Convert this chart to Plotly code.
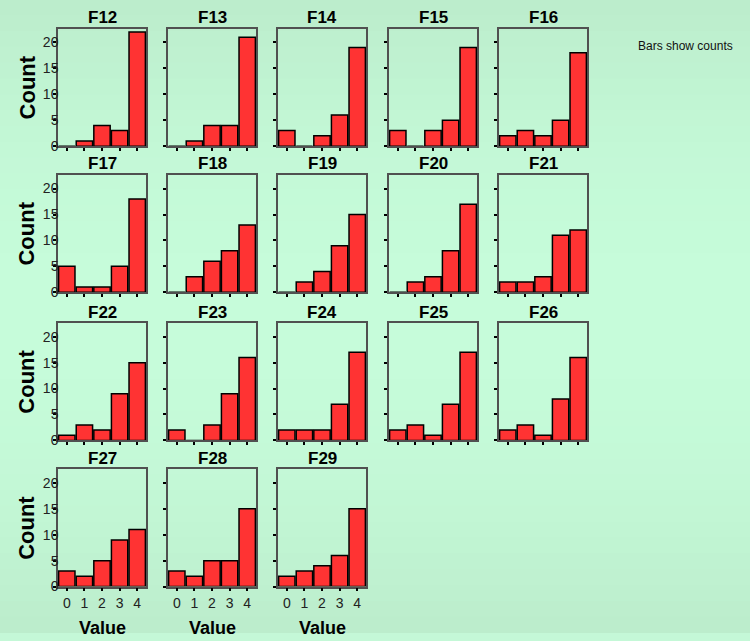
import plotly.graph_objects as go

# ---- data ----
categories = [0, 1, 2, 3, 4]
panel_names = ["F12", "F13", "F14", "F15", "F16",
               "F17", "F18", "F19", "F20", "F21",
               "F22", "F23", "F24", "F25", "F26",
               "F27", "F28", "F29"]
f12 = [0, 1, 4, 3, 22]
f13 = [0, 1, 4, 4, 21]
f14 = [3, 0, 2, 6, 19]
f15 = [3, 0, 3, 5, 19]
f16 = [2, 3, 2, 5, 18]
f17 = [5, 1, 1, 5, 18]
f18 = [0, 3, 6, 8, 13]
f19 = [0, 2, 4, 9, 15]
f20 = [0, 2, 3, 8, 17]
f21 = [2, 2, 3, 11, 12]
f22 = [1, 3, 2, 9, 15]
f23 = [2, 0, 3, 9, 16]
f24 = [2, 2, 2, 7, 17]
f25 = [2, 3, 1, 7, 17]
f26 = [2, 3, 1, 8, 16]
f27 = [3, 2, 5, 9, 11]
f28 = [3, 2, 5, 5, 15]
f29 = [2, 3, 4, 6, 15]
panel_values = [f12, f13, f14, f15, f16, f17, f18, f19, f20, f21,
                f22, f23, f24, f25, f26, f27, f28, f29]
y_ticks = [0, 5, 10, 15, 20]

# ---- layout geometry (pixels) ----
W, H = 750, 641
col_left = [58, 168, 278, 389, 499]
row_top = [29, 177, 327, 475]
pw, ph = 88, 119
FONT = "Liberation Sans, Arial, sans-serif"

fig = go.Figure()

# gradient background bands
n_bands = 40
top_c = (0xBB, 0xEC, 0xCB)
mid_c = (0xC6, 0xFC, 0xDA)
for b in range(n_bands):
    t = (b + 0.5) / n_bands
    f = abs(t - 0.5) * 2  # 0 at middle, 1 at edges
    f = f ** 2
    col = tuple(int(round(mid_c[k] + (top_c[k] - mid_c[k]) * f)) for k in range(3))
    fig.add_shape(type="rect", xref="paper", yref="paper",
                  x0=0, x1=1, y0=1 - (b + 1) / n_bands, y1=1 - b / n_bands + 0.001,
                  fillcolor="rgb(%d,%d,%d)" % col, line_width=0, layer="below")

annotations = []
for i, (name, vals) in enumerate(zip(panel_names, panel_values)):
    r, c = divmod(i, 5)
    sfx = "" if i == 0 else str(i + 1)
    fig.add_trace(go.Bar(
        x=categories, y=vals, xaxis="x" + sfx, yaxis="y" + sfx,
        marker=dict(color="#ff3333", line=dict(color="#000000", width=1.5)),
        showlegend=False, hoverinfo="x+y"))
    x0 = col_left[c] / W
    x1 = (col_left[c] + pw) / W
    y1 = 1 - row_top[r] / H
    y0 = 1 - (row_top[r] + ph) / H
    bottom_row = i >= 15
    fig.layout["xaxis" + sfx] = dict(
        domain=[x0, x1], anchor="y" + sfx, range=[-0.5, 4.5],
        tickvals=categories, ticktext=[str(v) for v in categories],
        showticklabels=bottom_row, ticks="outside", ticklen=3, tickwidth=2,
        tickcolor="#000000", showline=True, mirror=True, linecolor="#505050",
        linewidth=1.5, showgrid=False, zeroline=False, fixedrange=True,
        tickfont=dict(family=FONT, size=14, color="#222222"))
    fig.layout["yaxis" + sfx] = dict(
        domain=[y0, y1], anchor="x" + sfx, range=[0, 22.66],
        tickvals=y_ticks, showticklabels=(c == 0), ticks="outside", ticklen=3,
        tickwidth=2, tickcolor="#000000", showline=True, mirror=True,
        linecolor="#505050", linewidth=1.5, showgrid=False, zeroline=False,
        fixedrange=True, ticklabelstandoff=-8,
        tickfont=dict(family=FONT, size=14, color="#222222"))
    annotations.append(dict(
        text="<b>%s</b>" % name, xref="paper", yref="paper",
        x=(col_left[c] + pw / 2) / W, y=1 - (row_top[r] - 11) / H,
        xanchor="center", yanchor="middle", showarrow=False,
        font=dict(family=FONT, size=17, color="#000000")))

for r in range(4):
    annotations.append(dict(
        text="<b>Count</b>", xref="paper", yref="paper",
        x=27 / W, y=1 - (row_top[r] + ph / 2) / H, textangle=-90,
        xanchor="center", yanchor="middle", showarrow=False,
        font=dict(family=FONT, size=22, color="#000000")))
for c in range(3):
    annotations.append(dict(
        text="<b>Value</b>", xref="paper", yref="paper",
        x=(col_left[c] + pw / 2) / W, y=1 - 636 / H,
        xanchor="center", yanchor="middle", showarrow=False,
        font=dict(family=FONT, size=18, color="#000000")))
annotations.append(dict(
    text="Bars show counts", xref="paper", yref="paper",
    x=636 / W, y=1 - 47 / H, xanchor="left", yanchor="middle",
    showarrow=False, font=dict(family=FONT, size=12, color="#111111")))

fig.update_layout(
    width=W, height=H, margin=dict(l=0, r=0, t=0, b=0),
    paper_bgcolor="#c4f8d7", plot_bgcolor="rgba(0,0,0,0)",
    bargap=0.07, annotations=annotations, showlegend=False)

fig.write_html(
    "out.html",
    config={"displayModeBar": False},
    post_script="document.body.style.margin='0';document.body.style.overflow='hidden';")
